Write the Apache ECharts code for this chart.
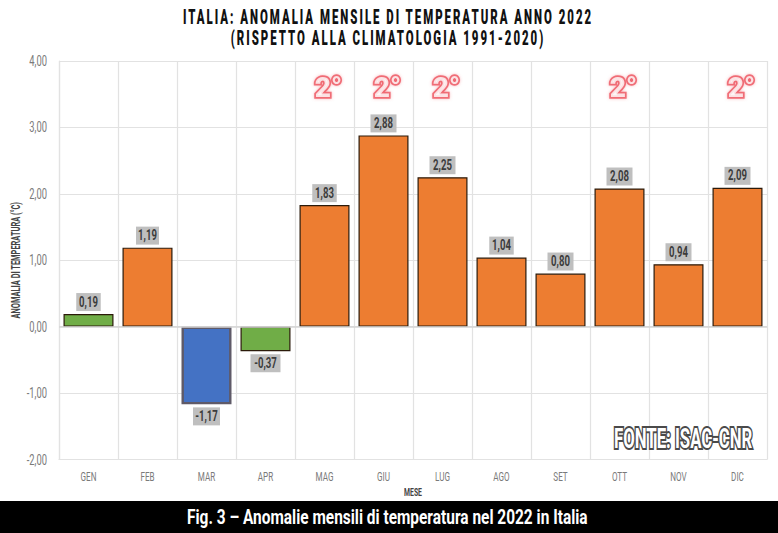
<!DOCTYPE html>
<html>
<head>
<meta charset="utf-8">
<style>
  html, body { margin: 0; padding: 0; background: #fff; }
  #chart { width: 778px; height: 533px; }
  /* the source font is widely tracked, zrender has no option for it */
  #chart text[style*=" 20px"] { letter-spacing: 3.5px; }
</style>
<script src="https://cdn.jsdelivr.net/npm/echarts@6/dist/echarts.min.js"></script>
</head>
<body>
<div id="chart"></div>
<script>
const months = ['GEN', 'FEB', 'MAR', 'APR', 'MAG', 'GIU', 'LUG', 'AGO', 'SET', 'OTT', 'NOV', 'DIC']
const anomalies = [0.19, 1.19, -1.17, -0.37, 1.83, 2.88, 2.25, 1.04, 0.80, 2.08, 0.94, 2.09]
const badgeMonths = ['MAG', 'GIU', 'LUG', 'OTT', 'DIC']
const badgeLevel = 3.6

const font = 'Roboto, sans-serif'
const comma = (v) => v.toFixed(2).replace('.', ',')

const barColor = (v) => {
  if (v < -1) return '#4472c4'
  if (Math.abs(v) < 0.5) return '#70ad47'
  return '#ed7d31'
}

// no condensed font is installed, so the text gets squeezed per font size
const squeezeBySize = {
  20: 0.57, // title
  20.5: 0.753, // footer
  27: 0.62, // source
  14: 0.67, // y ticks
  13.5: 0.6, // x ticks
  14.5: 0.66, // value labels
  12: 0.62, // y name
  11: 0.62, // x name
}

const squeezeText = () => {
  document.querySelectorAll('#chart text').forEach((t) => {
    const k = squeezeBySize[parseFloat(getComputedStyle(t).fontSize)]
    if (!k || t.hasAttribute('textLength')) return
    t.setAttribute('textLength', t.getComputedTextLength() * k)
    t.setAttribute('lengthAdjust', 'spacingAndGlyphs')
  })
}

const chart = echarts.init(document.getElementById('chart'), null, { renderer: 'svg' })

chart.on('finished', squeezeText)

chart.setOption({
  animation: false,
  backgroundColor: '#fff',
  title: {
    text: 'ITALIA: ANOMALIA MENSILE DI TEMPERATURA ANNO 2022\n(RISPETTO ALLA CLIMATOLOGIA 1991-2020)',
    left: 383,
    top: 1,
    textAlign: 'center',
    textStyle: { fontFamily: font, fontWeight: 900, fontSize: 20, lineHeight: 21, color: '#111' },
  },
  grid: { left: 59, top: 61, width: 708, height: 398.5, outerBoundsMode: 'none' },
  xAxis: {
    type: 'category',
    data: months,
    name: 'MESE',
    nameLocation: 'middle',
    nameGap: 27,
    nameTextStyle: { fontFamily: font, fontWeight: 'bold', fontSize: 11, color: '#444' },
    axisLine: { onZero: false, lineStyle: { color: '#e2e2e2', width: 1.2 } },
    axisTick: { show: false },
    axisLabel: { fontFamily: font, fontSize: 13.5, color: '#7a7a7a', margin: 9 },
    splitLine: { show: true, lineStyle: { color: '#e2e2e2', width: 1.2 } },
  },
  yAxis: {
    type: 'value',
    min: -2,
    max: 4,
    interval: 1,
    name: 'ANOMALIA DI TEMPERATURA (°C)',
    nameLocation: 'middle',
    nameGap: 37,
    nameMoveOverlap: false,
    nameTextStyle: { fontFamily: font, fontWeight: 'bold', fontSize: 12, color: '#444' },
    axisLine: { show: true, lineStyle: { color: '#e2e2e2', width: 1.2 } },
    axisTick: { show: false },
    axisLabel: { fontFamily: font, fontSize: 14, color: '#7a7a7a', margin: 12, formatter: comma },
    splitLine: { lineStyle: { color: '#e2e2e2', width: 1.2 } },
  },
  series: [
    {
      type: 'bar',
      barWidth: 50,
      data: anomalies.map((v) => ({
        value: v,
        itemStyle: {
          color: barColor(v),
          borderColor: v < -1 ? '#5f5a68' : '#2b1a0a',
          borderWidth: v < -1 ? 2.4 : 1.2,
        },
        label: {
          position: v < 0 ? 'bottom' : 'top',
          width: (comma(v).length === 5 ? 22 : 18) - 1.5 * (comma(v).split('1').length - 1),
        },
      })),
      label: {
        show: true,
        distance: 3,
        formatter: (p) => comma(p.value),
        fontFamily: font,
        fontWeight: 'bold',
        fontSize: 14.5,
        lineHeight: 14,
        align: 'center',
        color: '#3c3c3c',
        backgroundColor: '#bfbfbf',
        padding: [2, 4, 2, 4],
      },
      markLine: {
        silent: true,
        symbol: 'none',
        label: { show: false },
        lineStyle: { color: '#d4d4d4', width: 1.5, type: 'solid' },
        data: [{ yAxis: 0 }],
      },
    },
    {
      type: 'scatter',
      symbolSize: 0,
      data: badgeMonths.map((m) => [m, badgeLevel]),
      label: {
        show: true,
        position: 'inside',
        offset: [4, 0],
        formatter: '2°',
        fontFamily: font,
        fontWeight: 900,
        fontSize: 28,
        color: '#fff',
        textBorderColor: '#ee5560',
        textBorderWidth: 3.5,
        textShadowColor: 'rgba(238,85,96,0.5)',
        textShadowBlur: 3,
      },
    },
  ],
  graphic: [
    {
      type: 'text',
      left: 612,
      top: 423,
      z: 20,
      style: {
        text: 'FONTE: ISAC-CNR',
        fontFamily: font,
        fontWeight: 'bold',
        fontSize: 27,
        fill: '#fff',
        stroke: '#4a4a4a',
        lineWidth: 4,
        shadowColor: 'rgba(60,60,60,0.6)',
        shadowBlur: 3,
      },
    },
    { type: 'rect', left: 0, top: 501, z: 20, shape: { width: 778, height: 32 }, style: { fill: '#000' } },
    {
      type: 'text',
      left: 187,
      top: 506,
      z: 21,
      style: {
        text: 'Fig. 3 – Anomalie mensili di temperatura nel 2022 in Italia',
        fontFamily: font,
        fontWeight: 'bold',
        fontSize: 20.5,
        fill: '#fff',
      },
    },
  ],
})
squeezeText()
</script>
</body>
</html>
